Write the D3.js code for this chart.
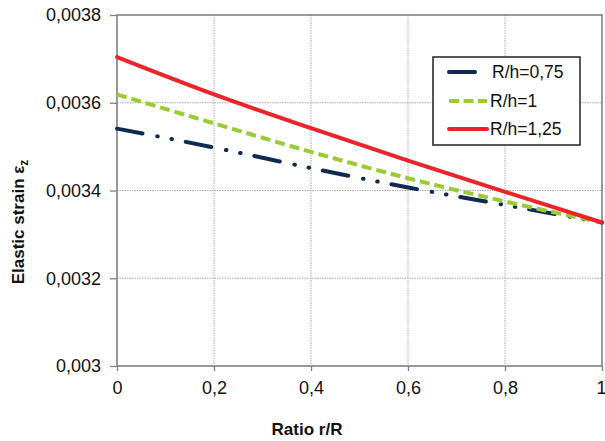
<!DOCTYPE html>
<html><head><meta charset="utf-8">
<script src="https://cdn.jsdelivr.net/npm/d3@7"></script>
<style>body{margin:0;background:#fff}svg{display:block}text{font-family:"Liberation Sans",Arial,sans-serif}</style>
</head><body>
<svg id="c" width="605" height="441"></svg>
<script>
const ratio = [0, 0.2, 0.4, 0.6, 0.8, 1.0];
const rh075 = [0.003541, 0.003498, 0.003451, 0.003407, 0.003367, 0.003327];
const rh1   = [0.003619, 0.003553, 0.003488, 0.003428, 0.003375, 0.003327];
const rh125 = [0.003704, 0.003619, 0.003542, 0.003468, 0.003397, 0.003327];
const seriesNames = ["R/h=0,75", "R/h=1", "R/h=1,25"];
const xTicks = [0, 0.2, 0.4, 0.6, 0.8, 1];
const yTicks = [0.003, 0.0032, 0.0034, 0.0036, 0.0038];

const svg = d3.select("#c");
const L = 117, R = 602, T = 15, B = 366;
const x = d3.scaleLinear().domain([0, 1]).range([L, R]);
const y = d3.scaleLinear().domain([0.003, 0.0038]).range([B, T]);
const fmtY = d => d3.format(".4~f")(d).replace(".", ",");
const fmtX = d => String(d).replace(".", ",");

// gridlines
const g = svg.append("g");
g.selectAll(".gx").data(xTicks.slice(1, -1)).join("line")
  .attr("x1", d => x(d)).attr("x2", d => x(d)).attr("y1", T).attr("y2", B)
  .attr("stroke", "#aaa").attr("stroke-width", 1).attr("stroke-dasharray", "1.5,1");
g.selectAll(".gy").data(yTicks.slice(1, -1)).join("line")
  .attr("y1", d => y(d)).attr("y2", d => y(d)).attr("x1", L).attr("x2", R)
  .attr("stroke", "#aaa").attr("stroke-width", 1).attr("stroke-dasharray", "1.5,1");

// border
svg.append("rect").attr("x", L).attr("y", T).attr("width", R - L).attr("height", B - T)
  .attr("fill", "none").attr("stroke", "#808080").attr("stroke-width", 1.6);

// axes
const yAxis = d3.axisLeft(y).tickValues(yTicks).tickFormat(fmtY).tickSize(7).tickPadding(9);
const yg = svg.append("g").attr("transform", `translate(${L},0)`).call(yAxis);
const xAxis = d3.axisBottom(x).tickValues(xTicks).tickFormat(fmtX).tickSize(5).tickPadding(10);
const xg = svg.append("g").attr("transform", `translate(0,${B})`).call(xAxis);
[yg, xg].forEach(a => {
  a.select(".domain").remove();
  a.selectAll("line").attr("stroke", "#808080").attr("stroke-width", 1.3);
  a.selectAll("text").attr("font-size", 18).attr("fill", "#111")
    .style("font-family", '"Liberation Sans", Arial, sans-serif');
});
xg.selectAll(".tick text").filter(d => d === 1).attr("text-anchor", "end").attr("dx", 4);

// lines
const styles = [
  {color: "#0f2a50", dash: "26,15,0.5,14,0.5,14", cap: "round", w: 4},
  {color: "#99cc33", dash: "10,5", cap: "butt", w: 4},
  {color: "#ee2229", dash: null, cap: "round", w: 4}
];
const data = [rh075, rh1, rh125];
const line = d3.line().x((d, i) => x(ratio[i])).y(d => y(d)).curve(d3.curveMonotoneX);
data.forEach((s, i) => {
  svg.append("path").datum(s).attr("d", line).attr("fill", "none")
    .attr("stroke", styles[i].color).attr("stroke-width", styles[i].w)
    .attr("stroke-linecap", styles[i].cap)
    .attr("stroke-dasharray", styles[i].dash);
});

// legend
const lg = svg.append("g");
lg.append("rect").attr("x", 433).attr("y", 57).attr("width", 147).attr("height", 88)
  .attr("fill", "#fff").attr("stroke", "#222").attr("stroke-width", 1.5);
const ly = [72, 101, 129];
seriesNames.forEach((n, i) => {
  lg.append("line").attr("x1", 449).attr("x2", i === 0 ? 475 : 487).attr("y1", ly[i]).attr("y2", ly[i])
    .attr("stroke", styles[i].color).attr("stroke-width", 4)
    .attr("stroke-linecap", i === 1 ? "butt" : "round")
    .attr("stroke-dasharray", i === 1 ? "10,4.5" : null);
  lg.append("text").attr("x", i === 0 ? 492 : 490).attr("y", ly[i]).attr("dy", "0.36em")
    .attr("font-size", 17.5).attr("fill", "#111").text(n);
});

// axis titles
svg.append("text").attr("x", 307).attr("y", 435).attr("text-anchor", "middle")
  .attr("font-size", 17).attr("font-weight", "bold").attr("fill", "#111").text("Ratio r/R");
const yt = svg.append("text").attr("transform", "translate(24,222) rotate(-90)")
  .attr("text-anchor", "middle").attr("font-size", 17).attr("font-weight", "bold").attr("fill", "#111");
yt.append("tspan").text("Elastic strain ε");
yt.append("tspan").attr("font-size", 12).attr("dy", 4).text("z");
</script>
</body></html>
